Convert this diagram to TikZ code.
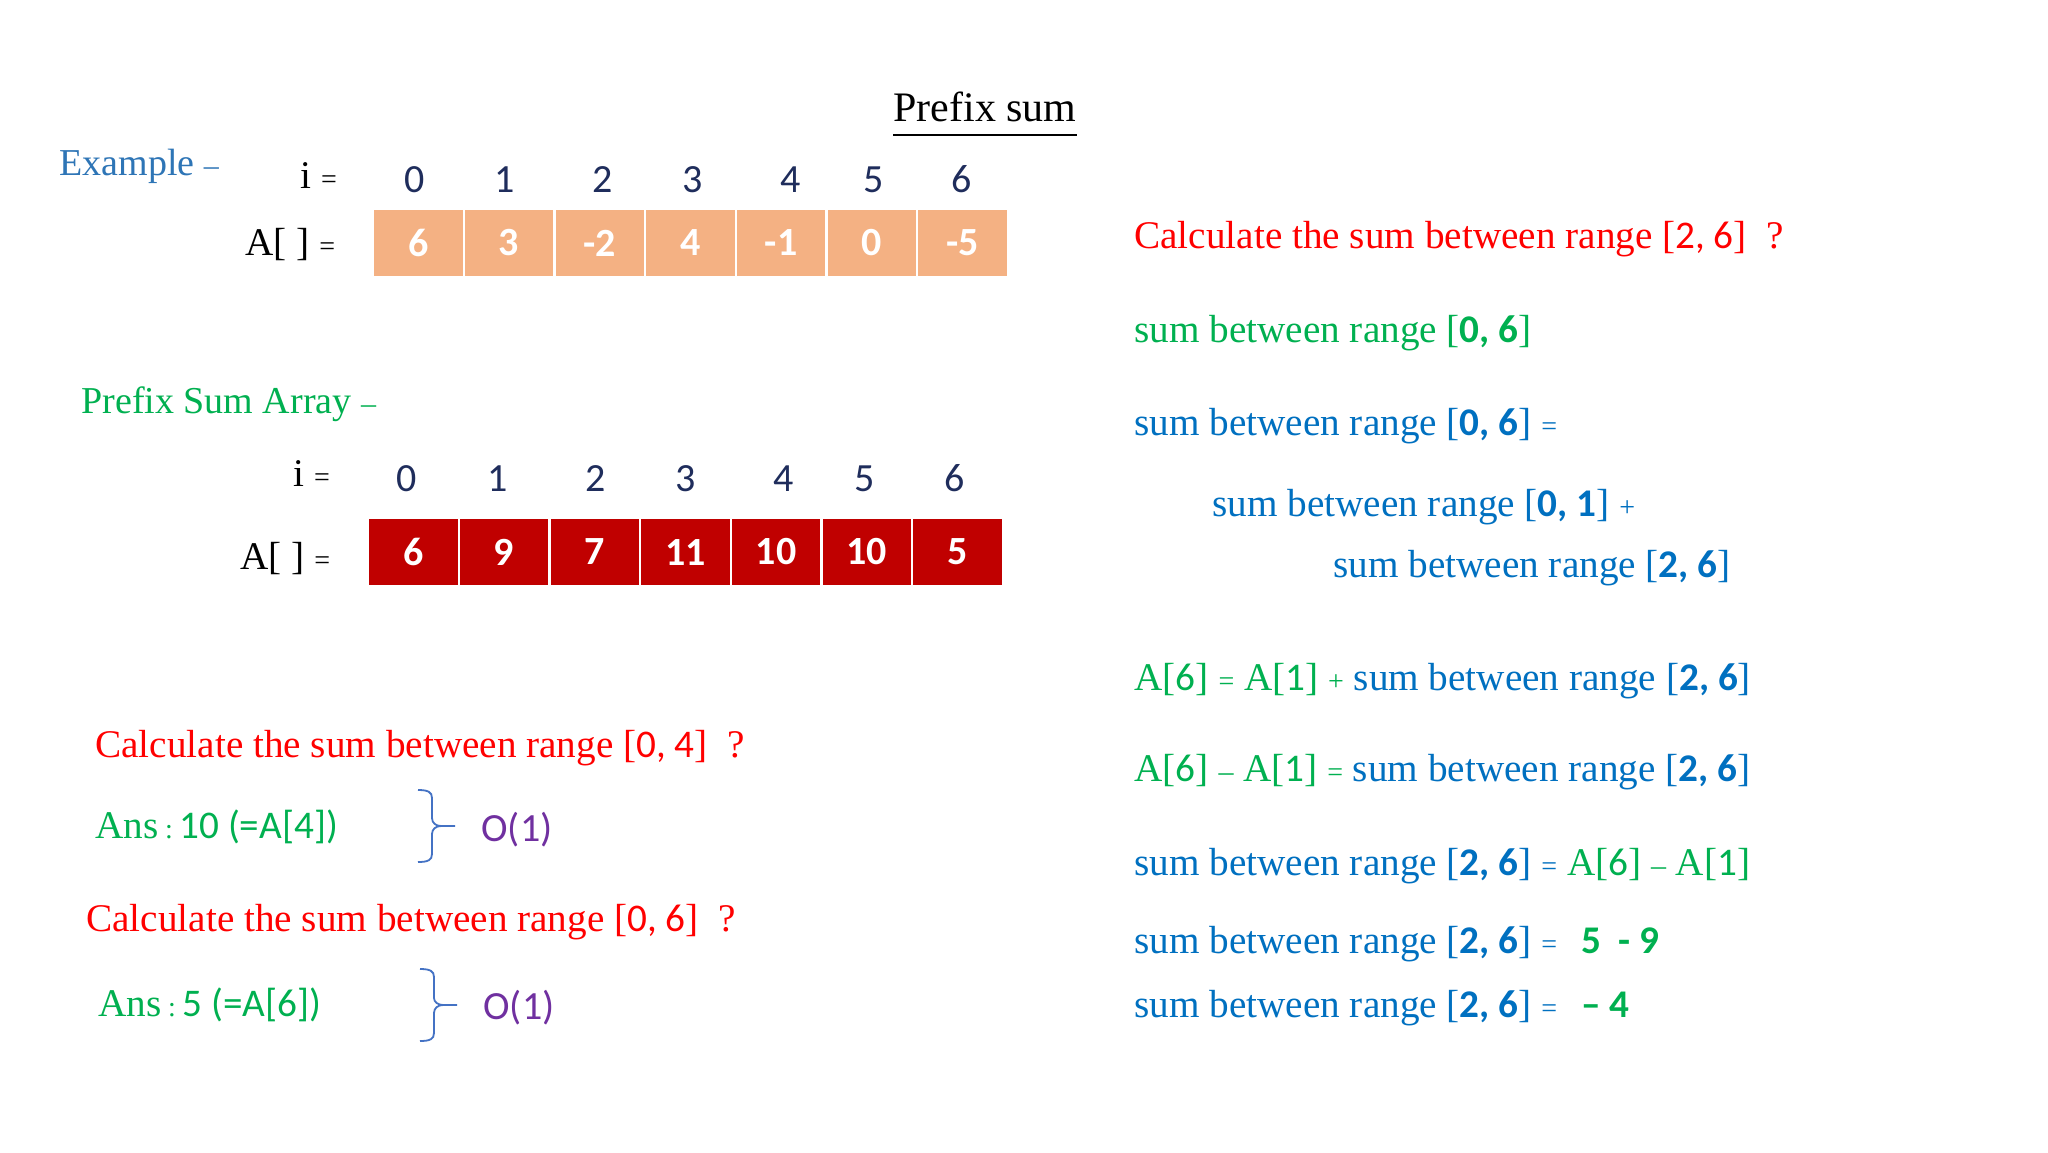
\documentclass[tikz,border=0pt]{standalone}
\usepackage{fontspec}
\setmainfont{Liberation Serif}
\newfontfamily\numfont{Carlito}
\definecolor{exblue}{HTML}{2E75B6}
\definecolor{tgreen}{HTML}{00B050}
\definecolor{tred}{HTML}{FF0000}
\definecolor{darkred}{HTML}{C00000}
\definecolor{peach}{HTML}{F4B183}
\definecolor{tblue}{HTML}{0070C0}
\definecolor{tpurple}{HTML}{7030A0}
\definecolor{navy}{HTML}{1F2D5C}
\definecolor{braceblue}{HTML}{4472C4}
\newcommand\nm[1]{{\numfont #1}}
\newcommand\bn[1]{{\numfont\bfseries #1}}
\newcommand\sq{{\fontsize{14}{14}\selectfont =}}
\newcommand\sop[1]{{\fontsize{14}{14}\selectfont #1}}
\newcommand\sdash{{\fontsize{15}{15}\selectfont –}}
\tikzset{
  txt/.style={anchor=base west, inner sep=0pt, font=\fontsize{19.6}{24}\selectfont},
  idx/.style={anchor=base, inner sep=0pt, text=navy, font=\numfont\fontsize{20}{24}\selectfont},
  cellA/.style={fill=peach, draw=white, line width=1.2pt, minimum width=45.35pt, minimum height=34pt, inner sep=0pt, text=white, font=\numfont\bfseries\fontsize{20}{24}\selectfont},
  cellB/.style={cellA, fill=darkred},
  bracestyle/.style={draw=braceblue, line width=0.9pt}
}
\begin{document}
\begin{tikzpicture}[x=0.5pt,y=-0.5pt]
\useasboundingbox[fill=white] (0,0) rectangle (2048,1152);

% title
\node[anchor=base, inner sep=0pt, font=\fontsize{21}{24}\selectfont] (title) at (985,121) {Prefix sum};
\draw[line width=1.1pt] ([yshift=-7pt]title.base west) -- ([yshift=-7pt]title.base east);

% example array
\node[txt, text=exblue, font=\fontsize{19}{22}\selectfont] (ex) at (59,175) {Example \sdash};
\node[txt] (i1) at (300,188) {i \sq};
\foreach \xx [count=\k from 0] in {415,505,603,693,791,874,962}
  \node[idx] (ia\k) at (\xx,192) {\k};
\node[txt] (a1) at (245,255) {A[ ] \sq};
\foreach \v [count=\k from 0] in {6,3,-2,4,-1,0,-5}
  \node[cellA] (o\k) at ({418.4+90.7*\k},243) {\v};

% prefix sum array
\node[txt, text=tgreen, font=\fontsize{19}{22}\selectfont] (psa) at (81,413) {Prefix Sum Array \sdash};
\node[txt] (i2) at (293,486) {i \sq};
\foreach \xx [count=\k from 0] in {407,498,596,686,784,865,955}
  \node[idx] (ib\k) at (\xx,491) {\k};
\node[txt] (a2) at (240,569) {A[ ] \sq};
\foreach \v [count=\k from 0] in {6,9,7,11,10,10,5}
  \node[cellB] (p\k) at ({413.4+90.7*\k},552) {\v};

% left questions
\node[txt, text=tred] (q1) at (95,757) {Calculate the sum between range [\nm{0, 4}]\ \ ?};
\node[txt, text=tgreen] (ans1) at (95,838) {Ans\,\sop{:}\,\nm{10 (=A[4])}};
\node[txt, text=tpurple, font=\numfont\fontsize{20}{24}\selectfont] (c1) at (481,841) {O(1)};
\draw[bracestyle] (418,790) .. controls (428,790) and (432,792) .. (432,798) -- (432,818)
  .. controls (432,823) and (436,826) .. (441,826) -- (455,826);
\draw[bracestyle] (441,826) .. controls (436,826) and (432,829) .. (432,834) -- (432,854)
  .. controls (432,860) and (428,862) .. (418,862);

\node[txt, text=tred] (q2) at (86,931) {Calculate the sum between range [\nm{0, 6}]\ \ ?};
\node[txt, text=tgreen] (ans2) at (98,1016) {Ans\,\sop{:}\,\nm{5 (=A[6])}};
\node[txt, text=tpurple, font=\numfont\fontsize{20}{24}\selectfont] (c2) at (483,1019) {O(1)};
\draw[bracestyle] (420,969) .. controls (430,969) and (434,971) .. (434,977) -- (434,998)
  .. controls (434,1002) and (438,1005) .. (443,1005) -- (457,1005);
\draw[bracestyle] (443,1005) .. controls (438,1005) and (434,1008) .. (434,1013) -- (434,1033)
  .. controls (434,1039) and (430,1041) .. (420,1041);

% right derivation
\node[txt, text=tred] (r1) at (1134,248) {Calculate the sum between range [\nm{2, 6}]\ \ ?};
\node[txt, text=tgreen] (r2) at (1134,342) {sum between range [\bn{0, 6}]};
\node[txt, text=tblue] (r3) at (1134,435) {sum between range [\bn{0, 6}] \sq};
\node[txt, text=tblue] (r4) at (1212,516) {sum between range [\bn{0, 1}] \sop{+}};
\node[txt, text=tblue] (r5) at (1333,577) {sum between range [\bn{2, 6}]};
\node[txt, text=tgreen] (r6) at (1134,690) {A[\nm{6}] \sq\ A[\nm{1}] \sop{+} \textcolor{tblue}{sum between range [\bn{2, 6}]}};
\node[txt, text=tgreen] (r7) at (1134,781) {A[\nm{6}] \sdash\ A[\nm{1}] \sq\ \textcolor{tblue}{sum between range [\bn{2, 6}]}};
\node[txt, text=tblue] (r8) at (1134,875) {sum between range [\bn{2, 6}] \sq\ \textcolor{tgreen}{A[\nm{6}] \sdash\ A[\nm{1}]}};
\node[txt, text=tblue] (r9) at (1134,953) {sum between range [\bn{2, 6}] \sq\hspace{12pt}\textcolor{tgreen}{\bn{5\ \ - 9}}};
\node[txt, text=tblue] (r10) at (1134,1017) {sum between range [\bn{2, 6}] \sq\hspace{12pt}\textcolor{tgreen}{\bn{– 4}}};
\end{tikzpicture}
\end{document}
